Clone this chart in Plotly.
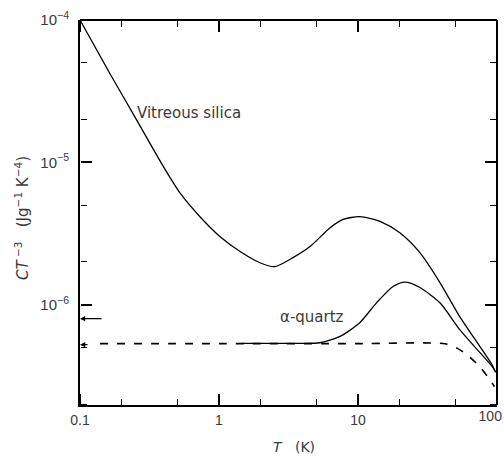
import math
import plotly.graph_objects as go

# ---- data ----
vit_T = [0.1, 0.1625, 0.253, 0.394, 0.524, 0.73, 1.02, 1.42, 1.97, 2.53, 3.41, 4.52,
         6.3, 7.8, 10.3, 14.4, 20, 27.9, 38.9, 54, 75.5, 92, 98]
vit_C = [1e-4, 4.28e-5, 2.02e-5, 9.5e-6, 6.1e-6, 4.15e-6, 3.0e-6, 2.36e-6, 1.97e-6, 1.85e-6,
         2.14e-6, 2.56e-6, 3.47e-6, 3.97e-6, 4.15e-6, 3.85e-6, 3.2e-6, 2.32e-6, 1.43e-6,
         8.24e-7, 5.07e-7, 3.8e-7, 3.35e-7]

qtz_T = [1.46, 2.5, 4.0, 5.3, 7.43, 10.3, 13.6, 17.9, 21.8, 27.9, 38.9, 54, 75.5, 92, 98]
qtz_C = [5.35e-7, 5.35e-7, 5.35e-7, 5.4e-7, 5.98e-7, 7.47e-7, 1.03e-6, 1.34e-6, 1.44e-6,
         1.32e-6, 1.03e-6, 6.67e-7, 4.6e-7, 3.7e-7, 3.35e-7]

dash_T = [0.139, 1, 10, 42.3, 52.4, 60.8, 75.5, 92, 96]
dash_C = [5.32e-7, 5.32e-7, 5.32e-7, 5.32e-7, 4.91e-7, 4.45e-7, 3.66e-7, 2.83e-7, 2.65e-7]

arrow_levels = [7.97e-7, 5.23e-7]
arrow_lengths = [23, 9]

x_major = [0.1, 1, 10, 100]
x_major_text = ["0.1", "1", "10", "100"]
y_major = [1e-6, 1e-5, 1e-4]
y_major_text = ["10<sup>−6</sup>", "10<sup>−5</sup>", "10<sup>−4</sup>"]

label_vit = "Vitreous silica"
label_qtz = "α-quartz"
x_title = "<i>T</i>   (K)"
y_title = "<i>CT</i><sup> −3</sup>   (Jg<sup>−1</sup> K<sup>−4</sup>)"

FONT = "Liberation Sans, Arial, sans-serif"
TFONT = "DejaVu Sans, sans-serif"
TXT = "#3a3a3a"

W, H = 504, 457
PL, PR, PT, PB = 80, 7, 20, 52
pw, ph = W - PL - PR, H - PT - PB
XR = [-1, 2.0005]
YR = [-6.705, -4]

fig = go.Figure()
fig.add_trace(go.Scatter(x=vit_T, y=vit_C, mode="lines",
                         line=dict(color="black", width=1.3, shape="spline", smoothing=0.7),
                         hoverinfo="skip", showlegend=False))
fig.add_trace(go.Scatter(x=qtz_T, y=qtz_C, mode="lines",
                         line=dict(color="black", width=1.3, shape="spline", smoothing=0.7),
                         hoverinfo="skip", showlegend=False))
fig.add_trace(go.Scatter(x=dash_T, y=dash_C, mode="lines",
                         line=dict(color="black", width=1.6, shape="spline", smoothing=0.6,
                                   dash="8px,9px"),
                         hoverinfo="skip", showlegend=False))
# empty carriers for the tick-only / label-only overlay axes
for xa, ya in [("x2", "y"), ("x3", "y"), ("x", "y2"), ("x", "y3"), ("x4", "y")]:
    fig.add_trace(go.Scatter(x=[], y=[], xaxis=xa, yaxis=ya, mode="lines",
                             hoverinfo="skip", showlegend=False))

main = dict(type="log", showgrid=False, zeroline=False, showline=True, automargin=False,
            linecolor="black", linewidth=2, ticks="", ticklabeloverflow="allow",
            tickmode="array")
minor = dict(dtick="D2", ticks="outside", ticklen=6, tickwidth=1.2, tickcolor="black")
tick_ax = dict(type="log", showgrid=False, zeroline=False, showticklabels=False,
               automargin=False, ticks="outside", ticklen=11, tickwidth=1.5,
               tickcolor="black", dtick=1, anchor="free", linecolor="black",
               linewidth=2, minor=minor)
xfont = dict(family=FONT, size=14, color=TXT)

fig.update_layout(
    xaxis=dict(**main, range=XR, tickvals=x_major[:-1], ticktext=x_major_text[:-1],
               ticklabelstandoff=1, tickfont=xfont),
    # last x label sits left of its tick, as in the reference
    xaxis4=dict(type="log", range=XR, overlaying="x", anchor="y", side="bottom",
                showgrid=False, zeroline=False, showline=False, automargin=False,
                ticks="", tickmode="array", tickvals=x_major[-1:],
                ticktext=x_major_text[-1:], ticklabelposition="outside left",
                ticklabelshift=5, ticklabelstandoff=1, ticklabeloverflow="allow",
                tickfont=xfont),
    yaxis=dict(**main, range=YR, tickvals=y_major, ticktext=y_major_text,
               ticklabelstandoff=6, tickfont=dict(family=FONT, size=15, color=TXT)),
    xaxis2=dict(**tick_ax, range=XR, overlaying="x", side="top", position=0,
                showline=False),
    xaxis3=dict(**tick_ax, range=XR, overlaying="x", side="bottom", position=1,
                showline=True),
    yaxis2=dict(**tick_ax, range=YR, overlaying="y", side="right", position=0,
                showline=False),
    yaxis3=dict(**tick_ax, range=YR, overlaying="y", side="left", position=1,
                showline=True),
)

ann = [
    dict(x=-0.604, y=-4.651, xref="x", yref="y", text=label_vit,
         showarrow=False, xanchor="left", font=dict(family=TFONT, size=15, color=TXT)),
    dict(x=0.424, y=-6.084, xref="x", yref="y", text=label_qtz,
         showarrow=False, xanchor="left", font=dict(family=TFONT, size=15, color=TXT)),
    dict(x=(294 - PL) / pw, y=(H - 447 - PB) / ph, xref="paper", yref="paper",
         text=x_title, showarrow=False, xanchor="center", yanchor="middle",
         font=dict(family=TFONT, size=14, color=TXT)),
    dict(x=(22 - PL) / pw, y=(H - 218 - PB) / ph, xref="paper", yref="paper",
         text=y_title, showarrow=False, textangle=-90, xanchor="center", yanchor="middle",
         font=dict(family=TFONT, size=15, color=TXT)),
]
for lvl, ln in zip(arrow_levels, arrow_lengths):
    ann.append(dict(x=-1, y=math.log10(lvl), xref="x", yref="y", text="",
                    showarrow=True, ax=ln, ay=0, arrowhead=2, arrowsize=0.8,
                    arrowwidth=1.3, arrowcolor="black", standoff=0))

fig.update_layout(width=W, height=H, margin=dict(l=PL, r=PR, t=PT, b=PB, autoexpand=False),
                  paper_bgcolor="white", plot_bgcolor="white",
                  annotations=ann, showlegend=False)

# remove the default 8px page margin so the 504x457 figure fills the window exactly
fig.write_html("out.html", config={"displayModeBar": False},
               post_script="document.body.style.margin='0px';"
                           "document.documentElement.style.overflow='hidden';")
